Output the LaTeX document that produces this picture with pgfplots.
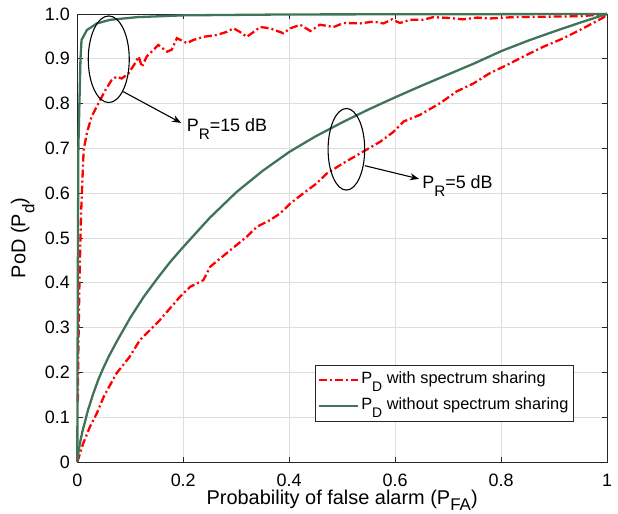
\documentclass[border=0pt]{standalone}
\usepackage{fontspec}
\setmainfont{Liberation Sans}
\usepackage{pgfplots}
\pgfplotsset{compat=1.18}
\usetikzlibrary{arrows.meta}
\definecolor{mgreen}{RGB}{64,116,88}
\definecolor{gridgray}{RGB}{222,222,222}
\definecolor{axgray}{RGB}{38,38,38}
\newcommand{\sub}[1]{\raisebox{-0.45em}{\scalebox{0.85}{#1}}}
\newcommand{\subx}[1]{\raisebox{-0.3em}{\scalebox{0.85}{#1}}}

\begin{document}
\begin{tikzpicture}
\begin{axis}[
    scale only axis,
    width=529.7bp, height=448bp,
    xmin=0, xmax=1, ymin=0, ymax=1,
    clip=false,
    xtick={0,0.2,0.4,0.6,0.8,1},
    xticklabels={0,0.2,0.4,0.6,0.8,1},
    ytick={0,0.1,0.2,0.3,0.4,0.5,0.6,0.7,0.8,0.9,1},
    yticklabels={0,0.1,0.2,0.3,0.4,0.5,0.6,0.7,0.8,0.9,1.0},
    xtick pos=both, ytick pos=both,
    tick align=inside, major tick length=5.3bp,
    grid=major,
    major grid style={gridgray, line width=0.75bp},
    axis line style={axgray, line width=0.75bp},
    tick style={axgray, line width=0.75bp},
    ticklabel style={font=\fontsize{18}{20}\selectfont, inner sep=0pt, text=black},
    xticklabel style={yshift=-11.5bp},
    yticklabel style={xshift=-7.3bp},
    xlabel={Probability of false alarm (P\subx{FA})},
    ylabel={PoD (P\sub{d})},
    label style={font=\fontsize{20}{24}\selectfont, inner sep=0pt},
    xlabel style={at={(axis description cs:0.5,-0.095)}, anchor=base},
    ylabel style={at={(axis description cs:-0.0978,0.5)}, anchor=base},
    legend image code/.code={\draw[#1] (0bp,0bp) -- (39bp,0bp);},
    legend cell align=left,
    legend style={at={(rel axis cs:0.937,0.0915)}, anchor=south east,
        draw=axgray, line width=0.5bp, fill=white,
        font=\fontsize{16.4}{19}\selectfont,
        inner xsep=3bp, inner ysep=5bp, row sep=6bp,
        nodes={inner sep=2bp, text height=12bp, text depth=4bp}},
]
% 15 dB, with spectrum sharing
\addplot[red, line width=2.3bp, dash pattern=on 8bp off 3bp on 2bp off 3bp] coordinates {
    (0.001,0.135) (0.002,0.25) (0.004,0.40) (0.007,0.55) (0.010,0.64)
    (0.012,0.696) (0.018,0.734) (0.027,0.771) (0.040,0.801) (0.053,0.830)
    (0.065,0.853) (0.074,0.860) (0.084,0.856) (0.097,0.868) (0.109,0.890)
    (0.116,0.905) (0.122,0.882) (0.131,0.905) (0.144,0.920) (0.153,0.931)
    (0.169,0.916) (0.178,0.920) (0.188,0.946) (0.207,0.935) (0.219,0.942)
    (0.238,0.949) (0.263,0.953) (0.282,0.960) (0.295,0.968) (0.307,0.960)
    (0.320,0.949) (0.333,0.960) (0.345,0.971) (0.364,0.968) (0.389,0.957)
    (0.402,0.968) (0.421,0.976) (0.440,0.962) (0.458,0.976) (0.484,0.971)
    (0.503,0.980) (0.534,0.979) (0.559,0.983) (0.578,0.979) (0.594,0.988)
    (0.609,0.980) (0.628,0.987) (0.653,0.987) (0.672,0.993) (0.704,0.991)
    (0.728,0.988) (0.755,0.992) (0.779,0.990) (0.823,0.993) (0.886,0.994)
    (0.949,0.995) (1,1)
};
\addlegendentry{P\sub{D} with spectrum sharing}
% 15 dB, without spectrum sharing
\addplot[mgreen, line width=2.3bp] coordinates {
    (0,0) (0.001,0.42) (0.002,0.70) (0.006,0.90) (0.008,0.942)
    (0.018,0.964) (0.037,0.979) (0.062,0.987) (0.113,0.993) (0.2,0.997)
    (0.4,0.999) (1,1)
};
\addlegendentry{P\sub{D} without spectrum sharing}
% 5 dB, with spectrum sharing
\addplot[red, line width=2.3bp, dash pattern=on 8bp off 3bp on 2bp off 3bp, forget plot] coordinates {
    (0,0) (0.011,0.041) (0.024,0.079) (0.037,0.109) (0.050,0.146)
    (0.074,0.198) (0.099,0.235) (0.118,0.272) (0.156,0.317) (0.194,0.369)
    (0.213,0.391) (0.238,0.406) (0.251,0.436) (0.289,0.473) (0.320,0.503)
    (0.339,0.525) (0.364,0.540) (0.383,0.555) (0.402,0.577) (0.427,0.600)
    (0.452,0.622) (0.471,0.644) (0.502,0.667) (0.534,0.689) (0.572,0.715)
    (0.597,0.737) (0.616,0.760) (0.647,0.775) (0.685,0.801) (0.716,0.827)
    (0.748,0.845) (0.779,0.868) (0.811,0.886) (0.842,0.905) (0.880,0.927)
    (0.918,0.946) (0.955,0.968) (0.993,0.992) (1,1)
};
% 5 dB, without spectrum sharing
\addplot[mgreen, line width=2.3bp, forget plot] coordinates {
    (0,0) (0.002,0.02) (0.005,0.042) (0.01,0.07) (0.015,0.092)
    (0.02,0.115) (0.03,0.152) (0.04,0.185) (0.05,0.212) (0.06,0.237)
    (0.075,0.27) (0.1,0.322) (0.125,0.368) (0.15,0.408) (0.175,0.446)
    (0.2,0.48) (0.25,0.545) (0.3,0.602) (0.35,0.650) (0.4,0.692)
    (0.45,0.727) (0.5,0.758) (0.55,0.787) (0.6,0.814) (0.65,0.840)
    (0.7,0.865) (0.75,0.890) (0.8,0.917) (0.85,0.940) (0.9,0.961)
    (0.95,0.981) (1,1)
};
% annotations
\draw[line width=1.1bp] (axis cs:0.0594,0.899) ellipse [x radius=20.5bp, y radius=43.3bp];
\draw[line width=1.1bp, -{Stealth[length=9bp,width=7bp]}] (axis cs:0.0868,0.8266) -- (axis cs:0.196,0.757);
\node[anchor=base west, inner sep=0pt, font=\fontsize{18}{20}\selectfont] at (axis cs:0.2064,0.738) {P\sub{R}=15 dB};
\draw[line width=1.1bp] (axis cs:0.508,0.698) ellipse [x radius=18.3bp, y radius=40.8bp];
\draw[line width=1.1bp, -{Stealth[length=9bp,width=7bp]}] (axis cs:0.5428,0.6614) -- (axis cs:0.645,0.632);
\node[anchor=base west, inner sep=0pt, font=\fontsize{18}{20}\selectfont] at (axis cs:0.651,0.611) {P\sub{R}=5 dB};
\end{axis}
\pgfresetboundingbox
\useasboundingbox (-77.3bp,-52bp) rectangle (540.7bp,462bp);
\end{tikzpicture}
\end{document}
